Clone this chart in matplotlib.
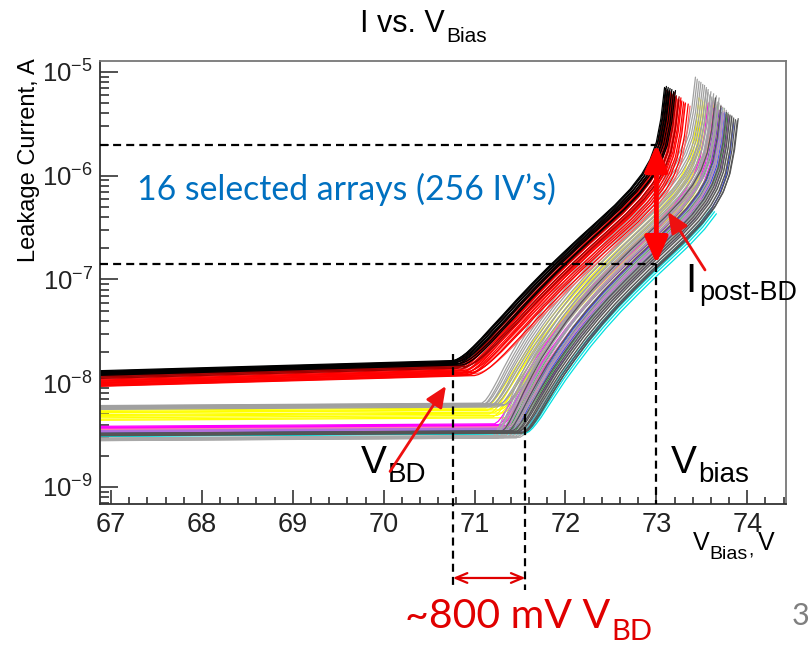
import numpy as np
import matplotlib
matplotlib.use("Agg")
import matplotlib.pyplot as plt
from matplotlib.ticker import FixedLocator, LogLocator, MultipleLocator, NullFormatter, FixedFormatter
from matplotlib.transforms import blended_transform_factory

plt.rcParams["font.family"] = ["Liberation Sans", "DejaVu Sans"]
plt.rcParams["mathtext.fontset"] = "custom"
plt.rcParams["mathtext.rm"] = "Liberation Sans"

# ---------------------------------------------------------------------------
# Post-breakdown current template: overvoltage above V_BD (V) -> log10(I / A)
ov_template = [0.00, 0.04, 0.08, 0.12, 0.17, 0.24, 0.33, 0.44, 0.57, 0.72, 0.88,
               1.05, 1.23, 1.42, 1.61, 1.80, 1.97, 2.10, 2.19, 2.26, 2.31, 2.35]
log_ipost_template = [-10.6, -9.45, -9.00, -8.72, -8.48, -8.22, -7.98, -7.75, -7.54,
                      -7.33, -7.14, -6.96, -6.79, -6.62, -6.46, -6.30, -6.14, -5.99,
                      -5.85, -5.68, -5.45, -5.15]

V_START = 66.8
# dark-current slope below breakdown (decades per volt)
slope_high = 0.025
slope_low = 0.005

# ---- high dark-current arrays (black / red) --------------------------------
black_vbd = [70.74, 70.75, 70.76, 70.77, 70.78, 70.79, 70.80, 70.82, 70.84, 70.86]
black_dark = [1.30e-8, 1.28e-8, 1.33e-8, 1.25e-8, 1.31e-8, 1.27e-8, 1.22e-8, 1.29e-8, 1.24e-8, 1.20e-8]
black_gain = [0.00, -0.01, 0.01, -0.02, 0.00, -0.03, -0.01, -0.02, -0.04, -0.03]

darkred_vbd = [70.76, 70.78, 70.80, 70.82, 70.83, 70.85, 70.87, 70.90]
darkred_dark = [1.26e-8, 1.21e-8, 1.18e-8, 1.23e-8, 1.15e-8, 1.19e-8, 1.12e-8, 1.16e-8]
darkred_gain = [-0.03, -0.05, -0.04, -0.06, -0.07, -0.05, -0.08, -0.09]

red_vbd = [70.78, 70.80, 70.81, 70.83, 70.84, 70.86, 70.87, 70.89, 70.90, 70.92, 70.93, 70.95, 70.97, 71.00]
red_dark = [1.10e-8, 1.05e-8, 1.13e-8, 0.98e-8, 1.08e-8, 1.02e-8, 0.96e-8, 1.06e-8, 1.00e-8,
            0.95e-8, 1.03e-8, 0.97e-8, 1.01e-8, 0.94e-8]
red_gain = [-0.04, -0.06, -0.05, -0.08, -0.07, -0.09, -0.10, -0.11, -0.12, -0.10, -0.13, -0.14, -0.15, -0.16]

lightred_vbd = [70.82, 70.85, 70.88, 70.92, 70.96, 71.02]
lightred_dark = [1.04e-8, 0.99e-8, 1.07e-8, 0.96e-8, 1.00e-8, 0.98e-8]
lightred_gain = [-0.08, -0.10, -0.12, -0.14, -0.16, -0.18]

# ---- low dark-current arrays ------------------------------------------------
yellow_vbd = [71.12, 71.14, 71.16, 71.18, 71.20, 71.22, 71.25, 71.28, 71.31, 71.35]
yellow_dark = [5.5e-9, 5.2e-9, 4.8e-9, 5.35e-9, 4.5e-9, 5.0e-9, 4.65e-9, 5.25e-9, 4.9e-9, 4.4e-9]
yellow_gain = [-0.10, -0.12, -0.14, -0.13, -0.16, -0.15, -0.18, -0.17, -0.20, -0.22]

magenta_vbd = [71.22, 71.25, 71.28, 71.30, 71.33, 71.36, 71.39, 71.42]
magenta_dark = [3.85e-9, 3.70e-9, 3.60e-9, 3.78e-9, 3.55e-9, 3.65e-9, 3.50e-9, 3.72e-9]
magenta_gain = [-0.15, -0.18, -0.20, -0.19, -0.22, -0.24, -0.25, -0.27]

purple_vbd = [71.30, 71.34, 71.37, 71.41, 71.45]
purple_dark = [3.45e-9, 3.40e-9, 3.38e-9, 3.42e-9, 3.35e-9]
purple_gain = [-0.20, -0.22, -0.24, -0.26, -0.28]

pink_vbd = [71.28, 71.32, 71.36, 71.40, 71.44]
pink_dark = [3.60e-9, 3.55e-9, 3.50e-9, 3.45e-9, 3.40e-9]
pink_gain = [-0.12, -0.16, -0.18, -0.22, -0.25]

green_vbd = [71.33, 71.38, 71.43]
green_dark = [3.30e-9, 3.28e-9, 3.25e-9]
green_gain = [-0.16, -0.20, -0.25]

blue_vbd = [71.36, 71.40, 71.50]
blue_dark = [3.30e-9, 3.25e-9, 3.15e-9]
blue_gain = [-0.20, -0.24, -0.34]

violet_vbd = [71.26, 71.31, 71.38]
violet_dark = [3.50e-9, 3.45e-9, 3.40e-9]
violet_gain = [-0.14, -0.18, -0.23]

cyan_vbd = [71.50, 71.52, 71.54, 71.56]
cyan_dark = [3.10e-9, 3.12e-9, 3.08e-9, 3.11e-9]
cyan_gain = [-0.33, -0.35, -0.36, -0.38]
cyan_ov_end = 2.12

graytop_vbd = [71.08, 71.10, 71.12, 71.14, 71.16, 71.18, 71.20, 71.22, 71.25, 71.28, 71.31, 71.34]
graytop_dark = [6.1e-9, 5.9e-9, 6.0e-9, 5.8e-9, 6.05e-9, 5.7e-9, 5.95e-9, 5.85e-9, 5.6e-9, 6.0e-9, 5.75e-9, 5.9e-9]
graytop_gain = [0.10, 0.08, 0.06, 0.05, 0.03, 0.02, 0.00, -0.02, -0.04, -0.06, -0.08, -0.10]

graylow_vbd = [71.20, 71.22, 71.24, 71.26, 71.28, 71.30, 71.32, 71.34, 71.36, 71.38,
               71.40, 71.42, 71.44, 71.46, 71.48, 71.50]
graylow_dark = [2.90e-9, 2.85e-9, 2.95e-9, 2.80e-9, 2.92e-9, 2.88e-9, 2.82e-9, 2.97e-9,
                2.86e-9, 2.90e-9, 2.84e-9, 2.93e-9, 2.87e-9, 2.81e-9, 2.91e-9, 2.85e-9]
graylow_gain = [-0.02, -0.05, -0.07, -0.09, -0.10, -0.12, -0.14, -0.15, -0.17, -0.19,
                -0.20, -0.22, -0.24, -0.26, -0.27, -0.29]

darkgray_vbd = [71.30, 71.36, 71.42, 71.44, 71.46, 71.48, 71.50, 71.52, 71.54, 71.55]
darkgray_dark = [3.25e-9, 3.20e-9, 3.30e-9, 3.15e-9, 3.22e-9, 3.18e-9, 3.28e-9, 3.12e-9, 3.20e-9, 3.16e-9]
darkgray_gain = [-0.10, -0.18, -0.24, -0.26, -0.27, -0.28, -0.30, -0.31, -0.32, -0.30]

# (colour, V_BD list, dark-current list, gain-offset list, dark slope, last overvoltage)
families = [
    ("#ffff00", yellow_vbd, yellow_dark, yellow_gain, slope_low, 9.0),
    ("#ff00ff", magenta_vbd, magenta_dark, magenta_gain, slope_low, 9.0),
    ("#7a1fd0", purple_vbd, purple_dark, purple_gain, slope_low, 9.0),
    ("#ff80b0", pink_vbd, pink_dark, pink_gain, slope_low, 9.0),
    ("#20b040", green_vbd, green_dark, green_gain, slope_low, 9.0),
    ("#3040ff", blue_vbd, blue_dark, blue_gain, slope_low, 9.0),
    ("#b070e0", violet_vbd, violet_dark, violet_gain, slope_low, 9.0),
    ("#00e0e0", cyan_vbd, cyan_dark, cyan_gain, slope_low, cyan_ov_end),
    ("#a8a8a8", graylow_vbd, graylow_dark, graylow_gain, slope_low, 9.0),
    ("#a0a0a0", graytop_vbd, graytop_dark, graytop_gain, slope_low, 9.0),
    ("#555555", darkgray_vbd, darkgray_dark, darkgray_gain, slope_low, 9.0),
    ("#ff6060", lightred_vbd, lightred_dark, lightred_gain, slope_high, 9.0),
    ("#ff0000", red_vbd, red_dark, red_gain, slope_high, 9.0),
    ("#a00000", darkred_vbd, darkred_dark, darkred_gain, slope_high, 9.0),
    ("#000000", black_vbd, black_dark, black_gain, slope_high, 9.0),
]

# annotation values
v_bd_low, v_bd_high = 70.76, 71.56
i_knee_low, i_knee_high = 1.9e-8, 5.0e-9
v_bias_op = 73.0
i_upper, i_lower = 2.0e-6, 1.42e-7

x_ticks = [67, 68, 69, 70, 71, 72, 73, 74]
y_ticks = [1e-9, 1e-8, 1e-7, 1e-6, 1e-5]
y_ticklabels = [r"$\mathregular{10^{-9}}$", r"$\mathregular{10^{-8}}$", r"$\mathregular{10^{-7}}$",
                r"$\mathregular{10^{-6}}$", r"$\mathregular{10^{-5}}$"]


def iv_curve(vbd, dark, gain, slope, ov_end):
    ov = np.asarray(ov_template)
    lp = np.asarray(log_ipost_template)
    keep = ov <= ov_end + 1e-9
    v_post = vbd + ov[keep]
    i_dark = 10 ** (np.log10(dark) + slope * (v_post - 67.0))
    i_post = i_dark + 10 ** (lp[keep] + gain)
    v0 = V_START
    i0 = 10 ** (np.log10(dark) + slope * (v0 - 67.0))
    return np.concatenate([[v0], v_post]), np.concatenate([[i0], i_post])


W, H = 809, 646
fig = plt.figure(figsize=(W / 100, H / 100), dpi=100)
fig.patch.set_facecolor("white")


def fx(px):
    return px / W


def fy(py):
    return 1 - py / H


ax = fig.add_axes([fx(100), fy(504), fx(786) - fx(100), fy(61) - fy(504)])
ax.set_yscale("log")
ax.set_xlim(66.879, 74.426)
ax.set_ylim(10 ** -9.164, 10 ** -4.894)

for colour, vbds, darks, gains, slope, ov_end in families:
    for vbd, dark, gain in zip(vbds, darks, gains):
        v, i = iv_curve(vbd, dark, gain, slope, ov_end)
        ax.plot(v, i, color=colour, lw=0.9, solid_capstyle="round", zorder=2)

# spines and ticks
for side, s in ax.spines.items():
    s.set_color("#333333" if side in ("left", "bottom") else "#777777")
    s.set_linewidth(1.3)
ax.xaxis.set_major_locator(FixedLocator(x_ticks))
ax.xaxis.set_minor_locator(MultipleLocator(0.2))
ax.yaxis.set_major_locator(FixedLocator(y_ticks))
ax.yaxis.set_major_formatter(FixedFormatter(y_ticklabels))
ax.yaxis.set_minor_locator(LogLocator(base=10, subs=np.arange(2, 10)))
ax.yaxis.set_minor_formatter(NullFormatter())
ax.tick_params(axis="both", which="both", direction="in", top=False, right=False,
               colors="#222222", width=1.1)
ax.tick_params(axis="x", which="major", length=10, labelsize=19.5, pad=6)
ax.tick_params(axis="x", which="minor", length=5)
ax.tick_params(axis="y", which="major", length=13, labelsize=18.5, pad=5)
ax.tick_params(axis="y", which="minor", length=6.5)

# dashed guide lines
dash = (0, (3.6, 2.3))
ax.plot([ax.get_xlim()[0], v_bias_op], [i_upper, i_upper], color="black", lw=1.6, ls=dash, zorder=3)
ax.plot([ax.get_xlim()[0], v_bias_op], [i_lower, i_lower], color="black", lw=1.6, ls=dash, zorder=3)
ax.plot([v_bias_op, v_bias_op], [i_lower, ax.get_ylim()[0]], color="black", lw=1.6, ls=dash, zorder=3)

ylo, yhi = np.log10(ax.get_ylim())
y_below = 10 ** (ylo - 0.194 * (yhi - ylo))
for vb, ik in [(v_bd_low, i_knee_low), (v_bd_high, i_knee_high)]:
    ax.plot([vb, vb], [ik, y_below], color="black", lw=1.6, ls=dash, clip_on=False, zorder=3)

# red arrows
trans_xd = blended_transform_factory(ax.transData, ax.transAxes)
ax.annotate("", xy=(v_bd_low, -0.167), xytext=(v_bd_high, -0.167), xycoords=trans_xd,
            textcoords=trans_xd,
            arrowprops=dict(arrowstyle="<->,head_length=0.6,head_width=0.25", color="#e00000",
                            lw=1.6, shrinkA=0, shrinkB=0, mutation_scale=14),
            annotation_clip=False)
ax.annotate("", xy=(v_bias_op, i_upper), xytext=(v_bias_op, i_lower),
            arrowprops=dict(arrowstyle="<|-|>,head_length=0.8,head_width=0.35", color="#ff0000",
                            lw=3.5, shrinkA=0, shrinkB=0, mutation_scale=20), zorder=5)
ax.annotate("", xy=(73.128, 10 ** -6.349), xytext=(73.535, 10 ** -6.908),
            arrowprops=dict(arrowstyle="-|>,head_length=0.8,head_width=0.35", color="#ee1010",
                            lw=2.0, shrinkA=0, shrinkB=0, mutation_scale=16), zorder=5)
ax.annotate("", xy=(70.685, 10 ** -8.026), xytext=(70.07, 10 ** -8.85),
            arrowprops=dict(arrowstyle="-|>,head_length=0.8,head_width=0.35", color="#ee1010",
                            lw=2.0, shrinkA=0, shrinkB=0, mutation_scale=16), zorder=5)


def text_run(x_px, pieces, **common):
    """Place text pieces side by side; each piece is (text, size, baseline_px, gap_px)."""
    txt, size, base, _ = pieces[0]
    prev = fig.text(fx(x_px), fy(base), txt, fontsize=size, ha="left", va="baseline", **common)
    for txt, size, base, gap in pieces[1:]:
        prev = ax.annotate(txt, xy=(1, H - base), xycoords=(prev, "figure pixels"),
                           xytext=(gap * 0.72, 0), textcoords="offset points",
                           fontsize=size, ha="left", va="baseline", annotation_clip=False, **common)
    return prev


# title and axis titles
text_run(360, [("I vs. V", 22, 32, 0), ("Bias", 15, 42, 1)])
fig.text(fx(29), fy(58), "Leakage Current, A", fontsize=17, rotation=90, ha="center", va="top")
text_run(693, [("V", 18, 550, 0), ("Bias", 14, 559, 0), (",", 14, 556, 0), ("V", 18, 550, 5)])

# annotation texts
text_run(361, [("V", 28, 473, 0), ("BD", 20, 482, 1)])
text_run(671, [("V", 28, 473, 0), ("bias", 20, 482, 1)])
text_run(685, [("I", 29, 292, 0), ("post-BD", 19.5, 300, 3)])

lato = ["Lato", "DejaVu Sans"]
fig.text(fx(137), fy(200), "16 selected arrays (256 IV\u2019s)", fontsize=24.3, color="#0070c0",
         family=lato, ha="left", va="baseline")
text_run(405, [("~800 mV V", 29.5, 628, 0), ("BD", 21, 640, 1)], color="#e00000", family=lato)
fig.text(fx(792), fy(625), "3", fontsize=22, color="#7f7f7f", family=lato, ha="left", va="baseline")

fig.savefig("out.png", dpi=100)
